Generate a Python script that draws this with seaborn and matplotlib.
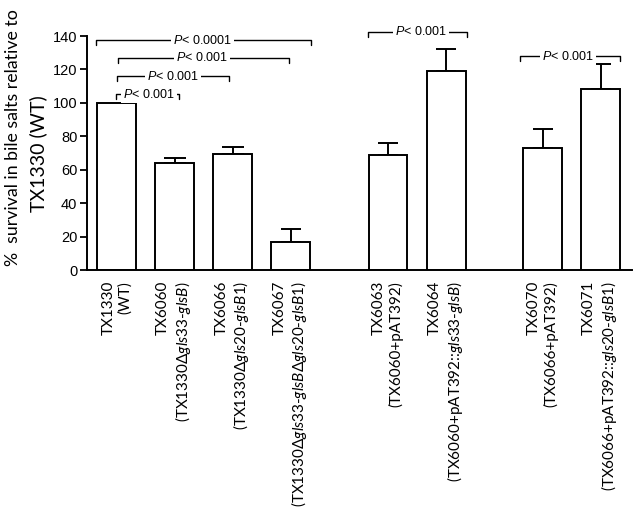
import matplotlib
matplotlib.use("Agg")
import matplotlib.pyplot as plt
import seaborn as sns
import numpy as np
import pandas as pd

# ---- data ----
strains = ["TX1330", "TX6060", "TX6066", "TX6067", "TX6063", "TX6064", "TX6070", "TX6071"]
genotypes = [
    "(WT)",
    r"(TX1330Δ$\mathit{gls33}$-$\mathit{glsB}$)",
    r"(TX1330Δ$\mathit{gls20}$-$\mathit{glsB1}$)",
    r"(TX1330Δ$\mathit{gls33}$-$\mathit{glsB}$Δ$\mathit{gls20}$-$\mathit{glsB1}$)",
    "(TX6060+pAT392)",
    r"(TX6060+pAT392::$\mathit{gls33}$-$\mathit{glsB}$)",
    "(TX6066+pAT392)",
    r"(TX6066+pAT392::$\mathit{gls20}$-$\mathit{glsB1}$)",
]
survival = [100.0, 64.2, 69.6, 16.8, 68.6, 119.3, 73.0, 108.1]
sem = [0.0, 2.6, 4.0, 7.6, 7.2, 12.7, 11.4, 15.0]
pvalues = ["< 0.0001", "< 0.001", "< 0.001", "< 0.001", "< 0.001", "< 0.001"]

# ---- layout ----
slot = [0, 1, 2, 3, 4.67, 5.67, 7.33, 8.33]
brackets = [  # x_left, x_right, y, text_x
    (-0.36, 3.34, 137.6, 1.47),
    (0.03, 2.97, 127.0, 1.47),
    (0.01, 1.94, 116.0, 0.97),
    (-0.01, 1.08, 105.1, 0.56),
    (4.33, 6.03, 142.6, 5.24),
    (6.94, 8.66, 128.0, 7.77),
]

sns.set_theme(style="ticks")
plt.rcParams["font.family"] = ["Lato", "DejaVu Sans"]
plt.rcParams["mathtext.fontset"] = "custom"
plt.rcParams["mathtext.rm"] = "Lato"
plt.rcParams["mathtext.it"] = "Lato:italic"
plt.rcParams["mathtext.sf"] = "Liberation Sans:italic"
for k in ("text.color", "axes.labelcolor", "xtick.color", "ytick.color", "axes.edgecolor"):
    plt.rcParams[k] = "black"

df = pd.DataFrame({"pos": slot, "val": survival, "strain": strains})

fig = plt.figure(figsize=(6.4, 5.14), dpi=100)
ax = fig.add_axes([87 / 640, 1 - 270 / 514, 545 / 640, 234 / 514])

sns.barplot(data=df, x="pos", y="val", native_scale=True, width=0.67,
            color="white", edgecolor="black", linewidth=1.4, errorbar=None,
            saturation=1, ax=ax)
for i in range(len(slot)):
    if sem[i] <= 0:
        continue
    ax.errorbar(slot[i], survival[i], yerr=[[0], [sem[i]]], fmt="none",
                ecolor="black", elinewidth=1.4, capsize=8 if i in (1, 2) else 7.5,
                capthick=1.4, zorder=1)
for p in ax.patches:
    p.set_zorder(2)

ax.set_xlim(-0.51, 8.87)
ax.set_ylim(0, 140)
ax.set_yticks(np.arange(0, 141, 20))
ax.set_xticks(slot)
ax.set_xticklabels([f"{s}\n{g}" for s, g in zip(strains, genotypes)],
                   rotation=90, fontsize=11, va="top", ha="center",
                   multialignment="right")
ax.tick_params(axis="x", length=0, pad=8)
ax.tick_params(axis="y", length=5, width=1.3, labelsize=10.5, pad=2)
for lab in ax.get_yticklabels():
    lab.set_fontfamily("Liberation Sans")
ax.set_xlabel("")
ax.set_ylabel("")
for side in ("top", "right"):
    ax.spines[side].set_visible(False)
for side in ("left", "bottom"):
    ax.spines[side].set_linewidth(1.4)
    ax.spines[side].set_color("black")

fig.text(13 / 640, 1 - 138 / 514, "%  survival in bile salts relative to",
         rotation=90, ha="center", va="center", fontsize=12.8)
fig.text(38 / 640, 1 - 154 / 514, "TX1330 (WT)",
         rotation=90, ha="center", va="center", fontsize=14)

for (xl, xr, y, tx), pv in zip(brackets, pvalues):
    ax.plot([xl, xl, xr, xr], [y - 3, y, y, y - 3], color="black", lw=1.0,
            clip_on=False, zorder=3)
    ax.text(tx, y, r"$\mathsf{P}$" + pv, ha="center", va="center", fontsize=9,
            fontfamily="Liberation Sans", clip_on=False, zorder=4,
            bbox=dict(facecolor="white", edgecolor="none", pad=1.5))

fig.savefig("out.png", dpi=100)
